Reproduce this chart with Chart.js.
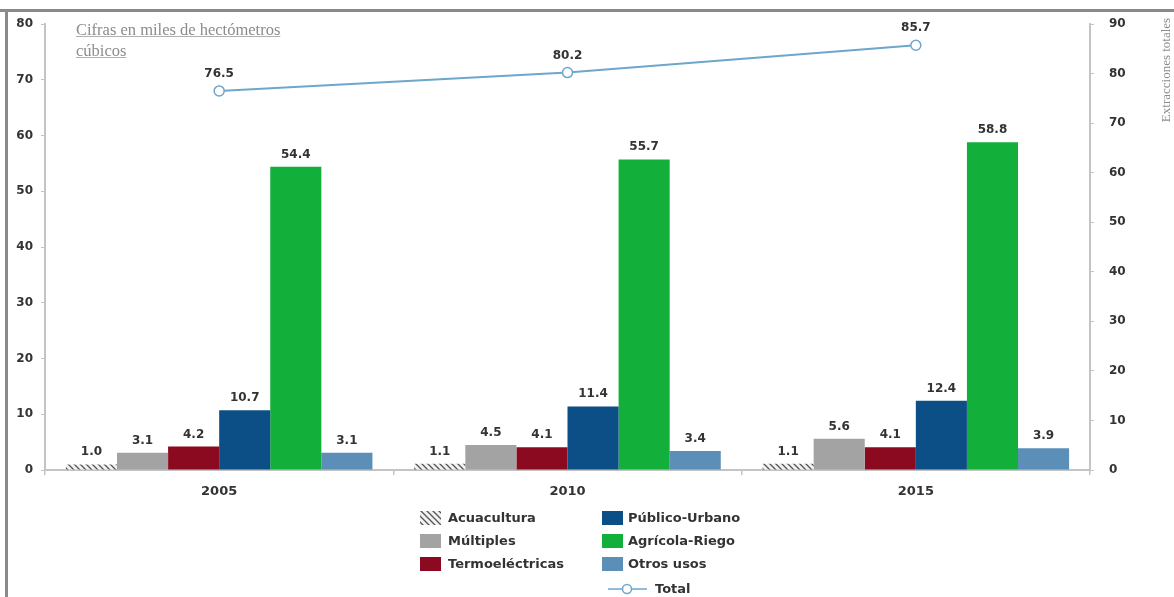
<!DOCTYPE html>
<html lang="es">
<head>
<meta charset="utf-8">
<script src="https://cdn.jsdelivr.net/npm/chart.js@4.4.1/dist/chart.umd.min.js"></script>
<style>
  html, body { margin: 0; padding: 0; background: #ffffff; }
  #wrap { position: relative; width: 1174px; height: 597px; overflow: hidden; }
  #chart { position: absolute; left: 0; top: 0; }
  #note {
    position: absolute; left: 76px; top: 19px;
    font-family: "Liberation Serif", "DejaVu Serif", serif;
    font-size: 16.5px; line-height: 21px; color: #8c8c8c;
    text-decoration: underline; text-decoration-color: #b0b0b0;
  }
</style>
</head>
<body>
<div id="wrap">
  <canvas id="chart" width="1174" height="597"></canvas>
  <div id="note">Cifras en miles de hectómetros<br>cúbicos</div>
</div>
<script>
// Años y usos del agua (miles de hm³)
const years = ["2005", "2010", "2015"];
const acuacultura = [1.0, 1.1, 1.1];
const multiples = [3.1, 4.5, 5.6];
const termoelectricas = [4.2, 4.1, 4.1];
const publicoUrbano = [10.7, 11.4, 12.4];
const agricolaRiego = [54.4, 55.7, 58.8];
const otrosUsos = [3.1, 3.4, 3.9];
const total = [76.5, 80.2, 85.7];
const leftTicks = [0, 10, 20, 30, 40, 50, 60, 70, 80];
const rightTicks = [0, 10, 20, 30, 40, 50, 60, 70, 80, 90];

const ctx = document.getElementById("chart").getContext("2d");

// Rayado diagonal para Acuacultura
function hatchPattern() {
  const c = document.createElement("canvas");
  c.width = 6; c.height = 6;
  const g = c.getContext("2d");
  g.fillStyle = "#f2f2f2";
  g.fillRect(0, 0, 6, 6);
  g.strokeStyle = "#555555";
  g.lineWidth = 1.3;
  g.beginPath();
  g.moveTo(0, 0); g.lineTo(6, 6);
  g.moveTo(-3, 3); g.lineTo(3, 9);
  g.moveTo(3, -3); g.lineTo(9, 3);
  g.stroke();
  return ctx.createPattern(c, "repeat");
}
const hatch = hatchPattern();

const fontFamily = '"DejaVu Sans", Verdana, sans-serif';
const valueFont = 'bold 12px ' + fontFamily;
const legendFont = 'bold 13px ' + fontFamily;
const textColor = "#333333";
const axisColor = "#c4c4c4";

// Marco, título lateral y leyenda en dos columnas
const decorations = {
  id: "decorations",
  beforeDraw(chart) {
    const g = chart.ctx;
    g.save();
    g.fillStyle = "#8a8a8a";
    g.fillRect(0, 9, 1174, 3);
    g.fillRect(5, 9, 3, 588);
    g.restore();
  },
  afterDraw(chart) {
    const g = chart.ctx;
    g.save();
    // título del eje derecho
    g.translate(1167, 70);
    g.rotate(-Math.PI / 2);
    g.font = '13px "Liberation Serif", "DejaVu Serif", serif';
    g.fillStyle = "#8c8c8c";
    g.textAlign = "center";
    g.textBaseline = "middle";
    g.fillText("Extracciones totales", 0, 0);
    g.restore();

    // leyenda
    g.save();
    g.font = legendFont;
    g.fillStyle = textColor;
    g.textBaseline = "middle";
    const ds = chart.data.datasets;
    const cols = [420, 602];
    const rows = [518, 541, 564];
    for (let i = 0; i < 6; i++) {
      const col = Math.floor(i / 3), row = i % 3;
      const x = cols[col], y = rows[row];
      g.fillStyle = ds[i].backgroundColor;
      g.fillRect(x, y - 7, 21, 14);
      g.fillStyle = textColor;
      g.fillText(ds[i].label, x + (col === 0 ? 28 : 26), y + 1);
    }
    const tl = ds[6];
    const ly = 589;
    g.strokeStyle = tl.borderColor;
    g.lineWidth = 1.5;
    g.beginPath();
    g.moveTo(608, ly); g.lineTo(647, ly);
    g.stroke();
    g.beginPath();
    g.arc(627, ly, 4.5, 0, Math.PI * 2);
    g.fillStyle = "#ffffff";
    g.fill();
    g.stroke();
    g.fillStyle = textColor;
    g.fillText(tl.label, 655, ly + 1);
    g.restore();
  }
};

// Valores sobre barras y puntos
const valueLabels = {
  id: "valueLabels",
  afterDatasetsDraw(chart) {
    const g = chart.ctx;
    g.save();
    g.font = valueFont;
    g.fillStyle = textColor;
    g.textAlign = "center";
    g.textBaseline = "alphabetic";
    chart.data.datasets.forEach((d, di) => {
      const meta = chart.getDatasetMeta(di);
      meta.data.forEach((el, i) => {
        const v = d.data[i].toFixed(1);
        const off = d.type === "line" ? 14 : 9;
        g.fillText(v, el.x, el.y - off);
      });
    });
    g.restore();
  }
};

new Chart(ctx, {
  data: {
    labels: years,
    datasets: [
      { type: "bar", label: "Acuacultura", data: acuacultura, backgroundColor: hatch, yAxisID: "y", order: 2 },
      { type: "bar", label: "Múltiples", data: multiples, backgroundColor: "#a3a3a3", yAxisID: "y", order: 2 },
      { type: "bar", label: "Termoeléctricas", data: termoelectricas, backgroundColor: "#8c0a1f", yAxisID: "y", order: 2 },
      { type: "bar", label: "Público-Urbano", data: publicoUrbano, backgroundColor: "#0c4f86", yAxisID: "y", order: 2 },
      { type: "bar", label: "Agrícola-Riego", data: agricolaRiego, backgroundColor: "#12b03b", yAxisID: "y", order: 2 },
      { type: "bar", label: "Otros usos", data: otrosUsos, backgroundColor: "#5c8fb8", yAxisID: "y", order: 2 },
      { type: "line", label: "Total", data: total, yAxisID: "y1", order: 1,
        borderColor: "#6ea6cc", borderWidth: 2, pointRadius: 5, pointBorderWidth: 1.5,
        pointBackgroundColor: "#ffffff", pointBorderColor: "#6ea6cc", tension: 0 }
    ]
  },
  options: {
    responsive: false,
    animation: false,
    layout: { padding: { left: 0, right: 34, top: 24, bottom: 92 } },
    datasets: { bar: { barPercentage: 1.0, categoryPercentage: 0.88 } },
    plugins: { legend: { display: false }, tooltip: { enabled: false } },
    scales: {
      x: {
        offset: true,
        grid: { offset: true, drawOnChartArea: false, drawTicks: true, tickLength: 5, color: axisColor, lineWidth: 1.5 },
        border: { color: axisColor, width: 2 },
        ticks: { font: { family: fontFamily, size: 13, weight: "bold" }, color: textColor, padding: 9 },
        afterFit(s) { s.height = 35; }
      },
      y: {
        position: "left",
        min: 0, max: 80,
        afterBuildTicks(s) { s.ticks = leftTicks.map(v => ({ value: v })); },
        grid: { drawOnChartArea: false, drawTicks: true, tickLength: 4, color: axisColor },
        border: { color: axisColor, width: 2 },
        ticks: { font: { family: fontFamily, size: 12, weight: "bold" }, color: textColor, padding: 8 },
        afterFit(s) { s.width = 45; }
      },
      y1: {
        position: "right",
        min: 0, max: 90,
        afterBuildTicks(s) { s.ticks = rightTicks.map(v => ({ value: v })); },
        grid: { drawOnChartArea: false, drawTicks: true, tickLength: 4, color: axisColor },
        border: { color: axisColor, width: 2 },
        ticks: { font: { family: fontFamily, size: 12, weight: "bold" }, color: textColor, padding: 15 },
        afterFit(s) { s.width = 50; }
      }
    }
  },
  plugins: [decorations, valueLabels]
});
</script>
</body>
</html>
